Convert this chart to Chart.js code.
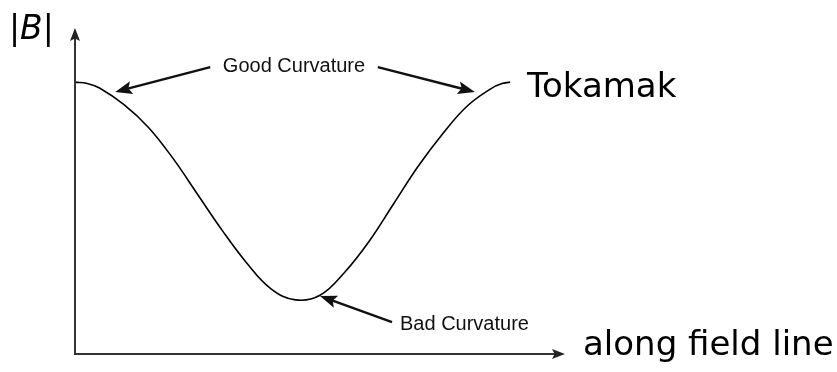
<!DOCTYPE html>
<html>
<head>
<meta charset="utf-8">
<script src="https://cdn.jsdelivr.net/npm/chart.js@4.4.1/dist/chart.umd.min.js"></script>
<style>
  html, body { margin: 0; padding: 0; background: #fff; }
  #wrap { width: 837px; height: 372px; position: relative; }
</style>
</head>
<body>
<div id="wrap"><canvas id="myChart"></canvas></div>
<script>
// position along the field line (0..100) and |B| (0..100)
var fieldPos = [0, 2.5, 5, 10, 15, 20, 25, 30, 35, 40, 45, 50, 55, 60, 65, 70, 75, 80, 85, 87, 88.8];
var fieldB = [83.4, 83, 81.6, 76.5, 69.5, 60, 49, 38, 28, 20, 16.6, 18, 25, 34.5, 46, 57.5, 67.5, 76, 81.5, 82.9, 83.4];

// annotation arrows: [tailX, tailY, tipX, tipY] in data units
var arrowLabels = ['Good Curvature', 'Good Curvature', 'Bad Curvature'];
var arrowLines = [
    [27.6, 88.0, 8.2, 80.4],
    [61.8, 88.0, 81.6, 80.4],
    [64.7, 9.8, 50.0, 17.8]
];

var points = fieldPos.map(function (x, i) { return { x: x, y: fieldB[i] }; });

function arrowHead(ctx, x0, y0, x1, y1, len, half) {
    var a = Math.atan2(y1 - y0, x1 - x0);
    ctx.beginPath();
    ctx.moveTo(x1, y1);
    ctx.lineTo(x1 - len * Math.cos(a) + half * Math.sin(a), y1 - len * Math.sin(a) - half * Math.cos(a));
    ctx.lineTo(x1 - len * Math.cos(a) * 0.8, y1 - len * Math.sin(a) * 0.8);
    ctx.lineTo(x1 - len * Math.cos(a) - half * Math.sin(a), y1 - len * Math.sin(a) + half * Math.cos(a));
    ctx.closePath();
    ctx.fill();
}

var sketchPlugin = {
    id: 'sketch',
    afterDraw: function (chart) {
        var ctx = chart.ctx;
        var area = chart.chartArea;
        var xs = chart.scales.x, ys = chart.scales.y;
        ctx.save();

        // axes
        ctx.strokeStyle = '#333';
        ctx.fillStyle = '#222';
        ctx.lineWidth = 2;
        ctx.beginPath();
        ctx.moveTo(area.left, area.top + 8);
        ctx.lineTo(area.left, area.bottom);
        ctx.lineTo(area.right - 8, area.bottom);
        ctx.stroke();
        arrowHead(ctx, area.left, area.bottom, area.left, area.top, 13, 5);
        arrowHead(ctx, area.left, area.bottom, area.right, area.bottom, 13, 5);

        // annotation arrows
        ctx.strokeStyle = '#111';
        ctx.fillStyle = '#111';
        ctx.lineWidth = 2.5;
        arrowLines.forEach(function (a) {
            var x0 = xs.getPixelForValue(a[0]), y0 = ys.getPixelForValue(a[1]);
            var x1 = xs.getPixelForValue(a[2]), y1 = ys.getPixelForValue(a[3]);
            var ang = Math.atan2(y1 - y0, x1 - x0);
            ctx.beginPath();
            ctx.moveTo(x0, y0);
            ctx.lineTo(x1 - 12 * Math.cos(ang), y1 - 12 * Math.sin(ang));
            ctx.stroke();
            arrowHead(ctx, x0, y0, x1, y1, 17, 6.5);
        });

        // labels
        ctx.fillStyle = '#111';
        ctx.textBaseline = 'middle';
        ctx.font = '20px "Liberation Sans", Arial, sans-serif';
        ctx.textAlign = 'center';
        ctx.fillText(arrowLabels[0], 294, 66);
        ctx.textAlign = 'left';
        ctx.fillText(arrowLabels[2], 400, 324);

        ctx.fillStyle = '#000';
        ctx.textBaseline = 'alphabetic';
        ctx.font = '34px "DejaVu Sans", sans-serif';
        ctx.fillText('Tokamak', 527, 97);
        ctx.fillText('along field line', 583, 355);
        ctx.font = 'oblique 33px "DejaVu Sans", sans-serif';
        ctx.fillText('|B|', 9, 39);
        ctx.restore();
    }
};

new Chart('myChart', {
    type: 'scatter',
    data: {
        datasets: [{
            data: points,
            showLine: true,
            borderColor: '#000',
            borderWidth: 1.6,
            pointRadius: 0,
            tension: 0.4,
            fill: false
        }]
    },
    options: {
        responsive: true,
        maintainAspectRatio: false,
        animation: false,
        layout: { padding: { left: 75, right: 272, top: 28, bottom: 18 } },
        plugins: {
            legend: { display: false },
            title: { display: false },
            tooltip: { enabled: false }
        },
        scales: {
            x: { type: 'linear', min: 0, max: 100, display: false },
            y: { type: 'linear', min: 0, max: 100, display: false }
        }
    },
    plugins: [sketchPlugin]
});
</script>
</body>
</html>
